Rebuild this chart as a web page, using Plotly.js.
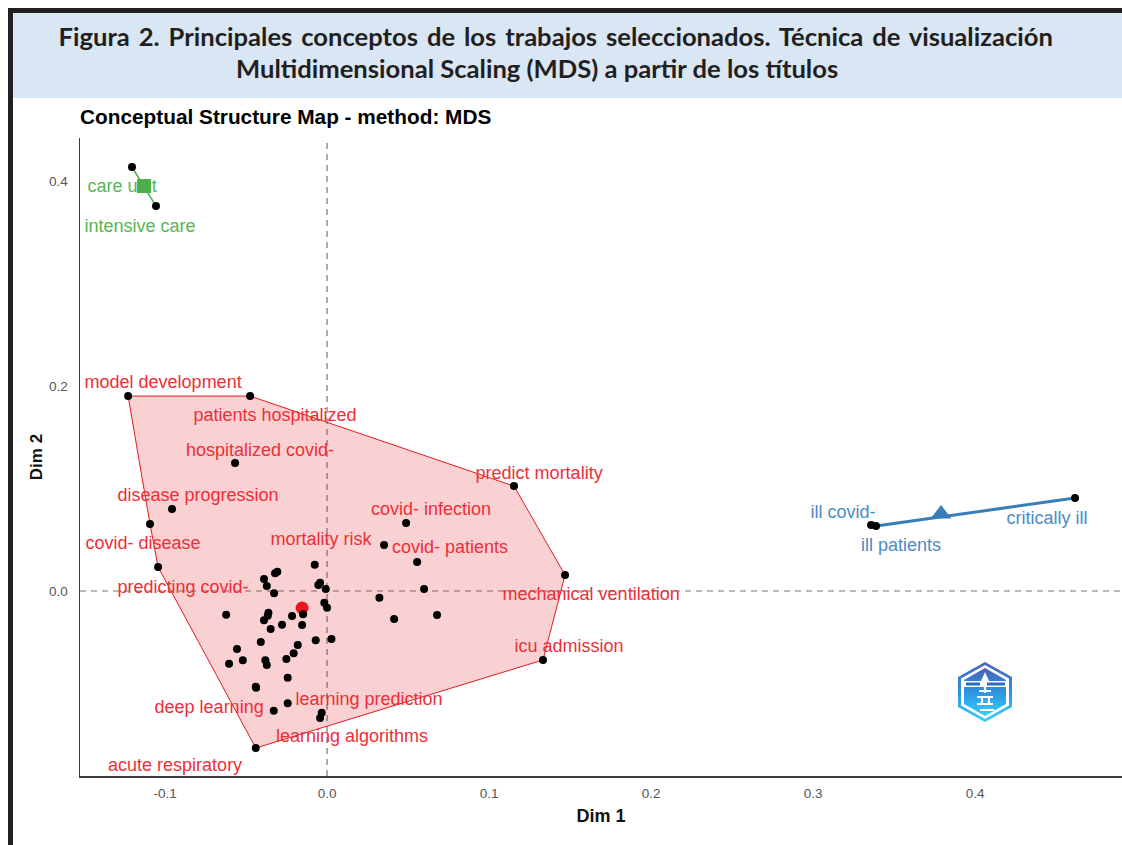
<!DOCTYPE html>
<html><head><meta charset="utf-8">
<script src="https://cdn.plot.ly/plotly-3.0.1.min.js"></script>
<style>
html,body{margin:0;padding:0;background:#fff;overflow:hidden}
.annotation[data-index="0"] text{word-spacing:2.7px}
</style></head><body><div id="chart" style="width:1122px;height:845px"></div>
<script>
// --- data ---
const pointsX = [-0.0076,-0.0307,-0.0321,-0.0389,-0.0372,-0.0327,-0.0043,-0.0054,-0.0008,0.0323,-0.0017,0,-0.0148,-0.0362,-0.0366,-0.0389,-0.0623,-0.0216,-0.0278,-0.0154,-0.0348,-0.0409,-0.007,0.0027,-0.0181,-0.0556,-0.052,-0.0605,-0.0206,-0.0251,-0.0381,-0.0372,-0.0243,-0.044,-0.0438,-0.0243,-0.0329,-0.0033,-0.0043,-0.044,-0.1228,-0.0475,-0.0568,-0.0957,-0.1093,-0.1043,0.1154,0.0488,0.0352,0.0556,0.0599,0.1469,0.0414,0.0679,0.1333];
const pointsY = [0.0257,0.0188,0.0173,0.0117,0.0049,-0.0022,0.0081,0.0059,0.002,-0.0065,-0.0114,-0.0163,-0.0227,-0.0212,-0.0241,-0.0286,-0.0231,-0.0244,-0.0329,-0.0332,-0.0371,-0.0498,-0.0481,-0.0468,-0.0527,-0.0566,-0.0676,-0.0709,-0.0608,-0.0663,-0.0676,-0.0722,-0.0846,-0.0934,-0.0943,-0.1096,-0.1168,-0.1187,-0.1239,-0.1532,0.1902,0.1902,0.1249,0.08,0.0654,0.0234,0.1024,0.0663,0.0449,0.0283,0.002,0.0156,-0.0273,-0.0234,-0.0673];
const hullRedX = [-0.1228,-0.0475,0.1154,0.1469,0.1333,-0.044,-0.1043,-0.1093,-0.1228];
const hullRedY = [0.1902,0.1902,0.1024,0.0156,-0.0673,-0.1532,0.0234,0.0654,0.1902];
const centerRed = [-0.0154,-0.0166];
const greenX = [-0.1204,-0.1056];
const greenY = [0.4137,0.3756];
const centerGreen = [-0.113,0.3951];
const blueX = [0.3358,0.3389,0.4617];
const blueY = [0.0644,0.0634,0.0907];
const hullBlueX = [0.3389,0.4617];
const hullBlueY = [0.0634,0.0907];
const centerBlue = [0.379,0.0751];
const redLabels = ["model development","patients hospitalized","hospitalized covid-","disease progression","covid- disease","predicting covid-","mortality risk","covid- infection","covid- patients","predict mortality","mechanical ventilation","icu admission","deep learning","learning prediction","learning algorithms","acute respiratory"];
const redLabelX = [-0.1012,-0.0321,-0.0414,-0.0796,-0.1136,-0.0889,-0.0037,0.0642,0.0759,0.1309,0.163,0.1494,-0.0728,0.0259,0.0154,-0.0938];
const redLabelY = [0.2029,0.1707,0.1366,0.0927,0.0449,0.0029,0.0488,0.079,0.041,0.1141,-0.0039,-0.0556,-0.1142,-0.1073,-0.1434,-0.1708];
const greenLabels = ["care unit","intensive care"];
const greenLabelX = [-0.1265,-0.1154];
const greenLabelY = [0.3941,0.3551];
const blueLabels = ["ill covid-","ill patients","critically ill"];
const blueLabelX = [0.3185,0.3543,0.4444];
const blueLabelY = [0.0761,0.0439,0.0702];
const xTicks = [-0.1,0,0.1,0.2,0.3,0.4];
const xTickText = ["-0.1","0.0","0.1","0.2","0.3","0.4"];
const yTicks = [0,0.2,0.4];
const yTickText = ["0.0","0.2","0.4"];
const figureLine1 = "Figura 2. Principales conceptos de los trabajos seleccionados. Técnica de visualización";
const figureLine2 = "Multidimensional Scaling (MDS) a partir de los títulos";
const chartTitle = "Conceptual Structure Map - method: MDS";

// --- layout helpers ---
const W=1122,H=845,L=80,R=1122,T=138,B=776;
const px=v=>(v-L)/(R-L), py=v=>(B-v)/(B-T);
const RED='#E41A1C',GREEN='#4DAF4A',BLUE='#377EB8',INK='#231f20';
const labelFont=c=>({family:'"Liberation Sans",Arial,sans-serif',size:18,color:c});
const logo=`<svg xmlns="http://www.w3.org/2000/svg" viewBox="0 0 54 60" width="216" height="240"><defs><linearGradient id="g" x1="0" y1="0" x2="0" y2="1"><stop offset="0" stop-color="#4a62b8"/><stop offset="0.5" stop-color="#2a94e0"/><stop offset="1" stop-color="#35d0fb"/></linearGradient></defs><polygon points="27,0 54,15 54,45 27,60 0,45 0,15" fill="url(#g)"/><polygon points="27,3 51,16.5 51,43.5 27,57 3,43.5 3,16.5" fill="#fff"/><polygon points="27,6 48,18 48,42 27,54 6,42 6,18" fill="url(#g)"/><rect x="5" y="19" width="44" height="6" fill="#fff"/><g fill="#2a6fc0"><rect x="8" y="20.5" width="14" height="3"/><rect x="29" y="20.5" width="18" height="3"/></g><polygon points="27,10 31,19 23,19" fill="#fff"/><g stroke="#fff" stroke-width="2.2" fill="none"><path d="M21 29h12M27 25v6M19 35h16M24 35v6M31 35v6M19 42h16M22 48h14"/></g></svg>`;

const traces=[
 {x:hullRedX,y:hullRedY,mode:'lines',fill:'toself',fillcolor:'rgba(228,26,28,0.2)',line:{color:RED,width:1},hoverinfo:'skip'},
 {x:greenX,y:greenY,mode:'lines',line:{color:GREEN,width:1.5},hoverinfo:'skip'},
 {x:hullBlueX,y:hullBlueY,mode:'lines',line:{color:BLUE,width:3},hoverinfo:'skip'},
 {x:redLabelX,y:redLabelY,text:redLabels,mode:'text',textposition:'middle center',textfont:labelFont('#ee2e38')},
 {x:greenLabelX,y:greenLabelY,text:greenLabels,mode:'text',textposition:'middle center',textfont:labelFont('#55b652')},
 {x:blueLabelX,y:blueLabelY,text:blueLabels,mode:'text',textposition:'middle center',textfont:labelFont('#4a8cc4')},
 {x:[centerGreen[0]],y:[centerGreen[1]],mode:'markers',marker:{symbol:'square',size:14,color:GREEN}},
 {x:[centerBlue[0]],y:[centerBlue[1]],mode:'markers',marker:{symbol:'triangle-up',size:18,color:BLUE}},
 {x:[centerRed[0]],y:[centerRed[1]],mode:'markers',marker:{symbol:'circle',size:13,color:RED}},
 {x:pointsX,y:pointsY,mode:'markers',marker:{symbol:'circle',size:8,color:'#000'}},
 {x:greenX,y:greenY,mode:'markers',marker:{symbol:'circle',size:8,color:'#000'}},
 {x:blueX,y:blueY,mode:'markers',marker:{symbol:'circle',size:8,color:'#000'}}
];
const axisBase={showgrid:false,zeroline:false,showline:true,linecolor:'#3a3a3a',linewidth:1.5,ticks:'outside',ticklen:8,tickcolor:'rgba(0,0,0,0)',
 tickfont:{family:'"Liberation Sans",Arial,sans-serif',size:13.5,color:'#555555'},mirror:false};
const layout={
 width:W,height:H,autosize:false,showlegend:false,paper_bgcolor:'#fff',plot_bgcolor:'#fff',
 margin:{l:L,r:W-R,t:T,b:H-B,pad:0},
 title:{text:'<b>'+chartTitle+'</b>',x:px(80),xref:'paper',xanchor:'left',y:1-117/H,yref:'container',yanchor:'middle',
  font:{family:'"Liberation Sans",Arial,sans-serif',size:20.8,color:'#000'}},
 xaxis:Object.assign({},axisBase,{ticklen:4,range:[-0.1525,0.4907],tickvals:xTicks,ticktext:xTickText,
  title:{text:'<b>Dim 1</b>',standoff:9,font:{family:'"Liberation Sans",Arial,sans-serif',size:18,color:'#111'}}}),
 yaxis:Object.assign({},axisBase,{range:[-0.1805,0.442],tickvals:yTicks,ticktext:yTickText,
  title:{text:'<b>Dim 2</b>',standoff:2,font:{family:'"Liberation Sans",Arial,sans-serif',size:17,color:'#111'}}}),
 shapes:[
  {type:'rect',xref:'paper',yref:'paper',x0:px(13),x1:px(1122),y0:py(13),y1:py(98),fillcolor:'#d9e6f3',line:{width:0},layer:'below'},
  {type:'rect',xref:'paper',yref:'paper',x0:px(8),x1:px(1122),y0:py(8),y1:py(13),fillcolor:INK,line:{width:0},layer:'below'},
  {type:'rect',xref:'paper',yref:'paper',x0:px(8),x1:px(13),y0:py(8),y1:py(845),fillcolor:INK,line:{width:0},layer:'below'},
  {type:'line',xref:'x',yref:'paper',x0:0,x1:0,y0:0,y1:1,line:{color:'#777777',width:1.2,dash:'6px,5px'},layer:'below'},
  {type:'line',xref:'paper',yref:'y',x0:0,x1:1,y0:0,y1:0,line:{color:'#777777',width:1.2,dash:'6px,5px'},layer:'below'}
 ],
 annotations:[
  {text:'<b>'+figureLine1+'</b>',xref:'paper',yref:'paper',x:px(555.5),y:py(36),xanchor:'center',yanchor:'middle',showarrow:false,
   font:{family:'Lato,"Noto Sans",sans-serif',size:25.6,color:INK}},
  {text:'<b>'+figureLine2+'</b>',xref:'paper',yref:'paper',x:px(536.5),y:py(68),xanchor:'center',yanchor:'middle',showarrow:false,
   font:{family:'Lato,"Noto Sans",sans-serif',size:25.6,color:INK}}
 ],
 images:[{source:'data:image/svg+xml;utf8,'+encodeURIComponent(logo),xref:'paper',yref:'paper',x:px(958),y:py(662),sizex:54/(R-L),sizey:60/(B-T),xanchor:'left',yanchor:'top',sizing:'stretch',layer:'above'}]
};
Plotly.newPlot('chart',traces,layout,{staticPlot:true,displayModeBar:false});
</script></body></html>
